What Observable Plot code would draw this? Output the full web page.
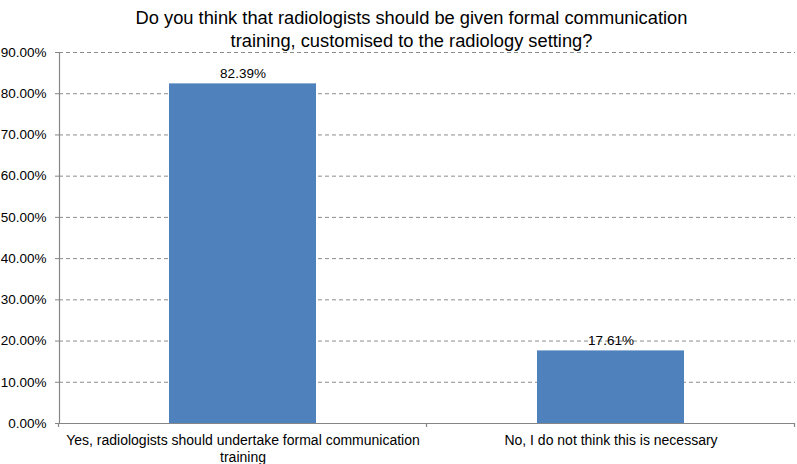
<!DOCTYPE html>
<html>
<head>
<meta charset="utf-8">
<script src="https://cdn.jsdelivr.net/npm/d3@7"></script>
<script src="https://cdn.jsdelivr.net/npm/@observablehq/plot@0.6"></script>
<style>
  html, body { margin: 0; padding: 0; background: #fff; }
  svg { overflow: visible; }
</style>
</head>
<body>
<div id="chart"></div>
<script>
const titleLines = ["Do you think that radiologists should be given formal communication", "training, customised to the radiology setting?"];
const categories = ["Yes, radiologists should undertake formal communication training", "No, I do not think this is necessary"];
const values = [0.8239, 0.1761];
const valueLabels = ["82.39%", "17.61%"];
const yTicks = [0, 0.1, 0.2, 0.3, 0.4, 0.5, 0.6, 0.7, 0.8, 0.9];

const data = categories.map((c, i) => ({category: c, value: values[i], label: valueLabels[i]}));
const font = "Liberation Sans, Arial, Helvetica, sans-serif";
const axisGray = "#868686";

// Category boundary ticks below the baseline, derived from the band scale
function boundaryTicks(index, scales, values, dimensions) {
  const g = d3.create("svg:g");
  const x = scales.x, y = scales.y;
  const bw = typeof x.bandwidth === "function" ? x.bandwidth() : x.bandwidth;
  const x0 = x(categories[0]), x1 = x(categories[1]);
  const step = x1 - x0;
  const gap = (step - bw) / 2;
  const y0 = y(0);
  const bounds = [x0 - gap, ...categories.map(c => x(c) + bw + gap)];
  for (const b of bounds) {
    if (!isFinite(b)) continue;
    g.append("line").attr("x1", b).attr("x2", b).attr("y1", y0).attr("y2", y0 + 4)
      .attr("stroke", axisGray).attr("stroke-width", 1.2);
  }
  return g.node();
}

const chart = Plot.plot({
  width: 797,
  height: 464,
  marginTop: 52,
  marginBottom: 41,
  marginLeft: 59,
  marginRight: 2,
  style: {fontFamily: font, fontSize: "13px", color: "#000", background: "#fff"},
  x: {domain: categories, paddingInner: 0.6, paddingOuter: 0.3, label: null},
  y: {domain: [0, 0.9], label: null},
  marks: [
    Plot.gridY(yTicks.filter(d => d > 0), {stroke: "#8c8c8c", strokeOpacity: 1, strokeDasharray: "4,3"}),
    Plot.barY(data, {x: "category", y: "value", fill: "#4f81bd"}),
    Plot.ruleY([0], {stroke: axisGray, strokeWidth: 1.2}),
    Plot.frame({anchor: "left", stroke: axisGray, strokeWidth: 1.2}),
    Plot.axisY({ticks: yTicks, tickFormat: d3.format(".2%"), tickSize: 4, tickPadding: 9, stroke: axisGray, fontSize: 13.5, label: null}),
    Plot.axisX({tickSize: 0, tickPadding: 9, lineWidth: 28, lineHeight: 1.25, fontSize: 14, label: null}),
    boundaryTicks,
    Plot.text(data, {x: "category", y: "value", text: "label", lineAnchor: "bottom", dy: -6, fontSize: 13.5, fill: "#000"}),
    Plot.text([titleLines.join("\n")], {frameAnchor: "top", dy: -45, dx: -16, lineAnchor: "top", lineHeight: 1.26, fontSize: 18.3, fill: "#000"})
  ]
});
document.getElementById("chart").appendChild(chart);
</script>
</body>
</html>
